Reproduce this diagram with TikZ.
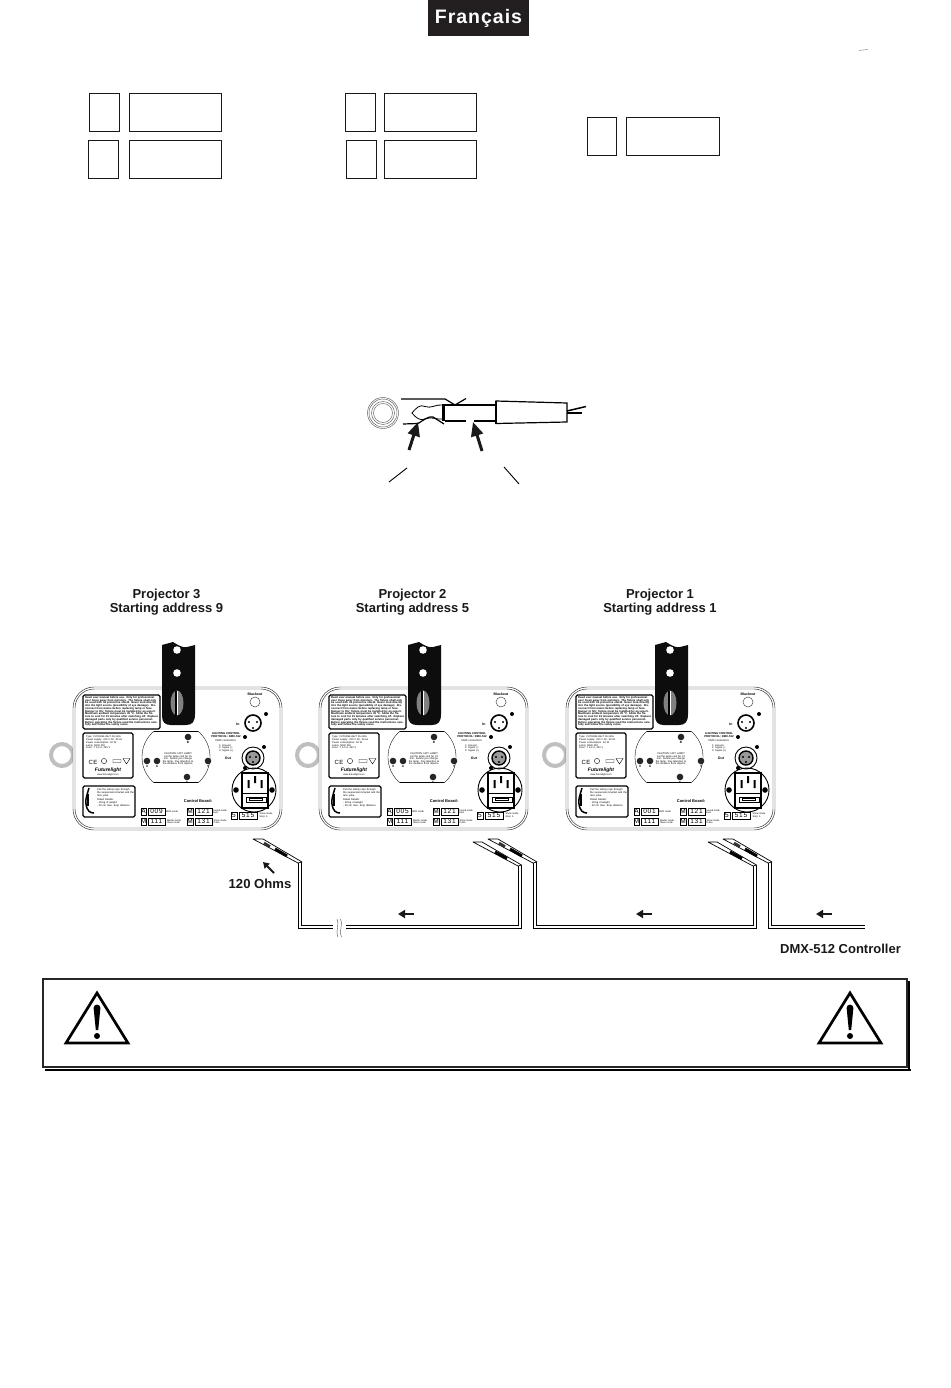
\documentclass[tikz,border=0pt]{standalone}
\usepackage{fontspec}
\setmainfont{Liberation Sans}
\usetikzlibrary{arrows.meta}
\definecolor{hdr}{HTML}{231F20}
\newcommand{\tinyf}[1]{\fontsize{#1}{#1}\selectfont}
\tikzset{
  x=1pt,y=-1pt,
  emptybox/.style={draw=black!90,line width=0.9pt},
  biglabel/.style={font=\fontsize{13}{14.2}\selectfont\bfseries,align=center,inner sep=0pt,text=black!90},
  cablepath/.style={draw=black,line width=1pt,double=white,double distance=2pt,line join=miter},
  flowarrow/.style={line width=2.4pt,-{Triangle[length=7pt,width=8pt]},black!90},
  jackarrow/.style={line width=3pt,-{Triangle[length=14pt,width=12pt]},black!90},
  thinline/.style={draw=black,line width=0.35pt},
  plug/.style={draw=black,line width=0.7pt,fill=white,line join=round},
  labelbox/.style={draw=black,line width=1.2pt,fill=white,rounded corners=1.5pt},
  boltdot/.style={fill=black!85},
  fine/.style={inner sep=0pt,align=left,text=black},
  dig/.style={draw=black,line width=0.6pt,fill=white},
  warnframe/.style={draw=black!85,line width=1.8pt},
  warnshadow/.style={draw=black,line width=2.2pt},
  warntri/.style={draw=black,line width=2.7pt,line join=miter},
}
% terminator plug drawn relative to the top of its cable
\newcommand{\plugA}[2]{\begin{scope}[shift={(#1,#2)}]
  \path[plug] (-47,-23) -- (-37,-23) -- (2,0) -- (-2,1) -- cycle;
  \draw[black!80,line width=2.6pt] (-36,-19) -- (-30,-15.5);
  \draw[black,line width=3pt] (-25,-13) -- (-13,-6);
\end{scope}}
\newcommand{\plugB}[2]{\begin{scope}[shift={(#1,#2)}]
  \path[plug] (-47,-23) -- (-38,-23) -- (1.5,0) -- (-2,1) -- cycle;
  \draw[black,line width=3pt] (-25,-13) -- (-13,-6.5);
\end{scope}}
\newcommand{\digits}[7]{% x1 x2 x3 y1 y2 letter number
  \path[dig] (#1,#4) rectangle (#2,#5);
  \path[dig] (#2+2,#4) rectangle (#3,#5);
  \node[inner sep=0pt,font=\tinyf{6.5}] at ({(#1+#2)/2},{(#4+#5)/2}) {#6};
  \node[inner sep=0pt,font=\tinyf{6.5}\addfontfeatures{LetterSpace=12}] at ({(#2+2+#3)/2},{(#4+#5)/2}) {#7};
}
\newcommand{\projector}[2]{%
\begin{scope}[xshift=#1pt]
  % grey ring behind the housing
  \draw[black!25,line width=4pt] (62,755) circle[radius=11];
  % housing
  \path[draw=black!85,line width=0.45pt,fill=white,rounded corners=21pt] (73,687) rectangle (282,830);
  \path[draw=black!85,line width=0.45pt,rounded corners=19pt] (75,689) rectangle (280,828);
  % clamp
  \fill[black!95] (162,645) -- (173,642) .. controls (178,645) and (182,648) .. (187,647) -- (195,645) -- (195,714)
     .. controls (195,722) and (192,725) .. (186,725) -- (171,725) .. controls (165,725) and (162,722) .. (162,716) -- cycle;
  \fill[white] (177,650) circle[radius=3.8];
  \fill[white] (177,673) circle[radius=3.8];
  \fill[black!50] (177,703) ellipse[x radius=6.5,y radius=12.5];
  \fill[white] (176.6,691) rectangle (178.2,715);
  \fill[black] (175.2,690.5) rectangle (176.6,715.5);
  % warning text box
  \path[labelbox] (83,695) rectangle (160,729);
  \node[fine,font=\tinyf{2.75}\bfseries,text width=73pt,anchor=north west] at (85,696.3) {\baselineskip=3.35pt Read user manual before use. Only for professional use! Keep away from moisture. The fixture shall only be used with its protective shield. Never look directly into the light source (possibility of eye damage). Disconnect from mains before replacing lamp or fuse. Danger to life: fixture must be installed by an expert. Maximum ambient temperature 45 °C. Allow the fixture to cool for 15 minutes after switching off. Replace damaged parts only by qualified service personnel. Before operating the fixture read the instructions carefully and follow the safety notes.};
  % type plate
  \path[labelbox] (83,733) rectangle (133,778);
  \node[fine,font=\tinyf{2.5},text width=46pt,anchor=north west] at (86,735.5) {\baselineskip=3pt Type: FUTURELIGHT CH-60A\\Power supply: 230 V AC, 50 Hz\\Power consumption: 60 W\\Lamp: MSD 250\\Fuse: T 6.3 A, 250 V};
  \node[inner sep=0pt,font=\tinyf{6}] at (93,762) {C\kern0.3pt E};
  \draw[line width=0.4pt] (104,761) circle[radius=2.6] (113,759.5) rectangle (121,762.5);
  \draw[line width=0.4pt] (123,758.5) -- (130,758.5) -- (126.5,764) -- cycle;
  \node[inner sep=0pt,font=\tinyf{5}\bfseries\itshape] at (108,770) {Futurelight};
  \node[inner sep=0pt,font=\tinyf{2.4}] at (108,775) {www.futurelight.com};
  % safety rope box
  \path[labelbox] (83,786) rectangle (135,817);
  \draw[line width=1.5pt] (89,788) .. controls (87,795) and (85,800) .. (86,804) .. controls (87,811) and (90,813) .. (94,813);
  \draw[line width=1.7pt] (88,794) -- (88,806);
  \node[fine,font=\tinyf{2.6},text width=37pt,anchor=north west] at (97,788.5) {\baselineskip=3pt Pull the safety rope through the suspension bracket and the lens yoke.\\[1pt] Rated Details:\\- 18 kg of weight\\- 20 cm max. drop distance};
  % round plate
  \begin{scope}
    \clip (140,731) rectangle (212,782);
    \draw[thinline] (176,757) circle[radius=34];
  \end{scope}
  \draw[thinline] (154,731) -- (198,731) (154,782) -- (198,782);
  \foreach \bx/\by/\bl in {188/737/B,147/761/X,157/761/A,208/761/Y,187/777/C}{
    \fill[boltdot] (\bx,\by) circle[radius=3.3];
    \node[inner sep=0pt,font=\tinyf{3}\bfseries] at (\bx,\by+5) {\bl};
  }
  \node[inner sep=0pt,align=center,font=\tinyf{2.6},text width=32pt] at (178,759) {\baselineskip=3pt CAUTION: HOT LAMP!\\ Let the lamp cool for 15 min. before you change the lamp. Pay attention to the distance from objects.};
  % right side
  \node[inner sep=0pt,font=\tinyf{3.5}\bfseries] at (255,694) {Blackout};
  \draw[black!70,line width=0.5pt] (255,702) circle[radius=5];
  \node[inner sep=0pt,font=\tinyf{3.5}\bfseries] at (238,724) {In};
  \draw[line width=1.6pt] (253,723) circle[radius=8];
  \foreach \px/\py in {249/722,257/722,253/728}{\fill (\px,\py) circle[radius=1.2];}
  \fill (266,714) circle[radius=2] (245,737) circle[radius=2];
  \node[inner sep=0pt,font=\tinyf{2.8}\bfseries,align=center] at (226,735) {\baselineskip=3pt LIGHTING CONTROL\\PROTOCOL: DMX-512};
  \node[fine,font=\tinyf{2.7}] at (226,741) {DMX connection:};
  \node[fine,font=\tinyf{2.5},anchor=north west] at (219,744) {\baselineskip=3pt 1: Ground\\2: Signal (-)\\3: Signal (+)};
  \node[inner sep=0pt,font=\tinyf{3.5}\bfseries] at (228,758) {Out};
  \draw[line width=0.9pt] (253,758) circle[radius=11];
  \draw[line width=1.4pt,fill=black!40] (253,758) circle[radius=7];
  \foreach \px/\py in {250/757,256/757,253/762}{\fill (\px,\py) circle[radius=1.1];}
  \fill (264,747) circle[radius=2] (245,768) circle[radius=2];
  % power inlet
  \draw[line width=0.9pt] (254,790) circle[radius=22];
  \path[draw=black,line width=1.5pt,fill=white] (242,773) rectangle (268,808);
  \fill (236,790) circle[radius=2.8] (272,790) circle[radius=2.8];
  \fill (247.5,780) rectangle (249.5,788) (254,776) rectangle (256,783) (260.5,780) rectangle (262.5,788);
  \draw[line width=0.8pt] (243,793) -- (267,793);
  \draw[line width=0.5pt] (246,797) rectangle (266,802) (249,798.5) rectangle (262,800.5);
  % control board
  \node[inner sep=0pt,font=\tinyf{4}\bfseries] at (198,801) {Control Board:};
  \digits{141}{146}{165}{808}{815}{A}{#2}
  \digits{141}{146}{165}{818}{825}{M}{111}
  \digits{187}{193}{212}{808}{815}{M}{121}
  \digits{187}{193}{212}{818}{825}{M}{131}
  \digits{231}{237}{257}{812}{819}{5}{515}
  \node[fine,font=\tinyf{2.4}] at (172,811.5) {DMX mode};
  \node[fine,font=\tinyf{2.4}] at (174,821.5) {Master mode\\Slave mode};
  \node[fine,font=\tinyf{2.4}] at (220,811.5) {Sound mode\\Auto};
  \node[fine,font=\tinyf{2.4}] at (220,821.5) {Show mode\\Pulse};
  \node[fine,font=\tinyf{2.4}] at (266,815.5) {Show mode\\Stop: 5};
\end{scope}}
\begin{document}
\begin{tikzpicture}
\useasboundingbox (0,0) rectangle (950,1388);
\fill[white] (0,0) rectangle (950,1388);
% header
\node[fill=hdr,text=white,minimum width=101pt,minimum height=36pt,inner sep=0pt,font=\fontsize{19.5}{20}\selectfont\bfseries\addfontfeatures{LetterSpace=5}] (header) at (478.5,18) {Français};
\draw[black!45,line width=0.5pt] (859,50.5) -- (868,49.5);
% empty boxes
\foreach \xa/\xb/\ya/\yb [count=\i] in {89/120/93/132,129/222/93/132,88/119/140/179,129/222/140/179,345/376/93/132,384/477/93/132,346/377/140/179,384/477/140/179,587/617/117/156,626/720/117/156}{
  \path[emptybox] (\xa,\ya) rectangle (\xb-0.4,\yb-0.4);
}
% jack
\draw[black!65,line width=0.45pt] (383,413) circle[radius=15.5] (383,413) circle[radius=14] (383,413) circle[radius=11.5] (383,413) circle[radius=9.5];
\draw[black,line width=1.2pt] (401,399) -- (445,399) -- (455,405) -- (466,398.5);
\draw[black,line width=1.2pt] (403,424) -- (418,423.5) .. controls (424,420) and (428,416) .. (433,417) -- (444,424);
\draw[black,line width=0.8pt] (443,405) .. controls (436,404) and (431,409) .. (425,406.5) .. controls (420,404) and (416,408) .. (412,413) .. controls (416,418) and (420,421) .. (425,419) .. controls (431,416) and (437,420) .. (443,419);
\fill[black] (441.5,404) rectangle (445,421);
\draw[black,line width=1.2pt] (445,405) -- (496,405);
\draw[black,line width=1.2pt] (445,421) -- (466,421) (474,421) -- (496,421);
\path[draw=black,line width=1.2pt,fill=white] (496,401) -- (567,403) -- (567,422) -- (496,423.5) -- cycle;
\draw[black,line width=2.2pt] (496,401) -- (496,423.5);
\draw[black,line width=1.5pt] (567,411) -- (586,406.5);
\draw[black,line width=1.5pt] (567,413) -- (582,413);
\coordinate (arrA) at (409,450);
\coordinate (tipA) at (418,422);
\coordinate (arrB) at (482,451);
\coordinate (tipB) at (473,422);
\draw[jackarrow] (arrA) -- (tipA);
\draw[jackarrow] (arrB) -- (tipB);
\draw[black,line width=0.9pt] (389,482) -- (407,468);
\draw[black,line width=0.9pt] (504,467) -- (519,484);
% projector labels
\node[biglabel] (lab3) at (166.5,602) {Projector 3\\Starting address 9};
\node[biglabel] (lab2) at (412.5,602) {Projector 2\\Starting address 5};
\node[biglabel] (lab1) at (660,602) {Projector 1\\Starting address 1};
% projectors
\projector{0}{009}
\projector{246}{005}
\projector{493}{001}
% cables
\coordinate (c3) at (300,862);
\coordinate (c2a) at (520,865);
\coordinate (c2b) at (535,862);
\coordinate (c1a) at (755,865);
\coordinate (c1b) at (770,862);
\coordinate (cEnd) at (865,927);
\coordinate (brA) at (333,927);
\coordinate (brB) at (346,927);
\draw[cablepath] (c3) -- (300,927) -- (brA);
\draw[cablepath] (brB) -- (520,927) -- (c2a);
\draw[cablepath] (c2b) -- (535,927) -- (755,927) -- (c1a);
\draw[cablepath] (c1b) -- (770,927) -- (cEnd);
\draw[black!70,line width=0.4pt] (337,919) .. controls (340,924) and (335,930) .. (338,937);
\draw[black!70,line width=0.4pt] (340.5,919) .. controls (343.5,924) and (338.5,930) .. (341.5,937);
\plugA{300}{862}
\plugB{520}{865}
\plugA{535}{862}
\plugB{755}{865}
\plugA{770}{862}
% flow arrows
\coordinate (f1a) at (414,914); \coordinate (f1b) at (398,914);
\coordinate (f2a) at (652,914); \coordinate (f2b) at (636,914);
\coordinate (f3a) at (832,914); \coordinate (f3b) at (816,914);
\draw[flowarrow] (f1a) -- (f1b);
\draw[flowarrow] (f2a) -- (f2b);
\draw[flowarrow] (f3a) -- (f3b);
% labels
\node[biglabel,font=\fontsize{13.1}{14}\selectfont\bfseries] (ohms) at (260,883.5) {120 Ohms};
\coordinate (ohmA) at (274,873); \coordinate (ohmB) at (263,862);
\draw[line width=2pt,-{Triangle[length=6pt,width=7pt]},black!90] (ohmA) -- (ohmB);
\node[biglabel,font=\fontsize{13}{14}\selectfont\bfseries] (dmx) at (840.5,949) {DMX-512 Controller};
% warning frame
\path[warnframe] (43,979) rectangle (907,1067);
\draw[warnshadow] (45,1069.7) -- (911,1069.7);
\draw[warnshadow] (909.3,981) -- (909.3,1070.5);
\foreach \cx in {97,850}{
  \path[warntri] (\cx,993) -- (\cx+31,1043) -- (\cx-31,1043) -- cycle;
  \fill[black] (\cx-3.4,1008) .. controls (\cx-3.4,1003.5) and (\cx+3.4,1003.5) .. (\cx+3.4,1008) -- (\cx+1.2,1030) -- (\cx-1.2,1030) -- cycle;
  \fill[black] (\cx,1036) circle[radius=3];
}
\end{tikzpicture}
\end{document}
